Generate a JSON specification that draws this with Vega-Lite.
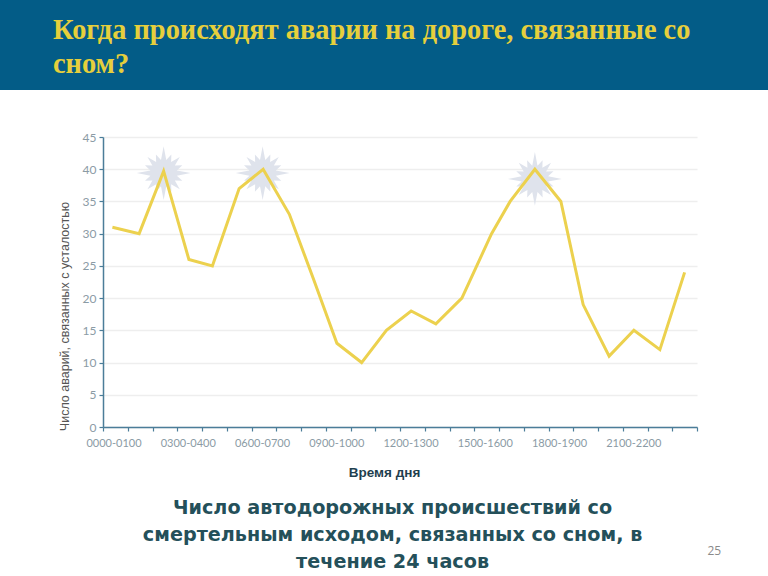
{
"$schema":"https://vega.github.io/schema/vega-lite/v6.json",
"width":594,"height":290,
"autosize":"none",
"padding":{"left":103,"top":137,"right":71,"bottom":149},
"background":"#ffffff",
"title":{"text":["Когда происходят аварии на дороге, связанные со","сном?"],"anchor":"start","frame":"group","dx":-50,"offset":-80,"font":"Liberation Serif","fontWeight":"bold","fontSize":28.4,"lineHeight":34,"color":"#e6cf3c","align":"left"},
"datasets":{
"band":[{"h":-4.17,"h2":26.9,"v":52.3,"v2":66.3}],
"stars":[{"h":2.45,"v":39.4},{"h":6.45,"v":39.4},{"h":17.45,"v":38.5}],
"series":[
{"h":0.38,"v":31},{"h":1.46,"v":30},{"h":2.45,"v":39.7},{"h":3.47,"v":26},{"h":4.42,"v":25},{"h":5.5,"v":37},{"h":6.47,"v":40},{"h":7.53,"v":33},{"h":8.5,"v":23},{"h":9.45,"v":13},{"h":10.45,"v":10},{"h":11.45,"v":15},{"h":12.45,"v":18},{"h":13.45,"v":16},{"h":14.5,"v":20},{"h":15.7,"v":30},{"h":16.45,"v":35},{"h":17.45,"v":40},{"h":18.5,"v":35},{"h":19.4,"v":19},{"h":20.45,"v":11},{"h":21.45,"v":15},{"h":22.5,"v":12},{"h":23.5,"v":24}],
"caption":[
{"t":"Число автодорожных происшествий со","h":11.7,"v":-13.5},
{"t":"смертельным исходом, связанных со сном, в","h":11.7,"v":-17.7},
{"t":"течение 24 часов","h":11.7,"v":-21.9}],
"page":[{"t":"25","h":24.7,"v":-19.2}]
},
"encoding":{
  "x":{"field":"h","type":"quantitative","scale":{"domain":[0,24],"nice":false},
   "axis":{"values":[0,1,2,3,4,5,6,7,8,9,10,11,12,13,14,15,16,17,18,19,20,21,22,23,24],
    "labelExpr":"datum.value%3==0 && datum.value<24 ? (datum.value<10?'0':'')+datum.value+'00-'+(datum.value+1<10?'0':'')+(datum.value+1)+'00' : ''",
    "labelFont":"Lato","labelFontSize":11,"labelColor":"#8b9ba5","labelOffset":10.5,"labelPadding":6,"labelAngle":0,"labelOverlap":false,"labelBound":false,"labelFlush":false,
    "tickColor":"#4b7d99","tickSize":4,"tickWidth":1.2,"domainColor":"#4b7d99","domainWidth":1.5,"grid":false,
    "title":"Время дня","titleFont":"Liberation Sans","titleFontWeight":"bold","titleFontSize":13.5,"titleColor":"#1f3f4f","titleX":281,"titleY":49,"titleAlign":"center","titleBaseline":"alphabetic"}},
  "y":{"field":"v","type":"quantitative","scale":{"domain":[0,45],"nice":false,"zero":false},
   "axis":{"values":[0,5,10,15,20,25,30,35,40,45],"labelOverlap":false,"labelFont":"Lato","labelFontSize":12,"labelColor":"#8b9ba5","labelPadding":3,
    "tickColor":"#4b7d99","tickSize":4,"tickWidth":1.2,"domainColor":"#4b7d99","domainWidth":1.5,
    "grid":true,"gridColor":"#eeeeee","gridWidth":1.5,
    "title":"Число аварий, связанных с усталостью","titleFont":"Liberation Sans","titleFontWeight":"normal","titleFontSize":12.5,"titleColor":"#555555","titleX":-39,"titleY":179,"titleAngle":-90,"titleAlign":"center","titleBaseline":"middle"}}
},
"layer":[
{"data":{"name":"band"},"mark":{"type":"rect","color":"#035c87"},
 "encoding":{"x2":{"field":"h2"},"y2":{"field":"v2"}}},
{"data":{"name":"stars"},"mark":{"type":"point","filled":true,"opacity":1,"color":"#dfe3ec","size":2900,
  "shape":"M1 0L.49 .098L.693 .287L.416 .278L.6 .6L.278 .416L.287 .693L.098 .49L0 1L-.098 .49L-.287 .693L-.278 .416L-.6 .6L-.416 .278L-.693 .287L-.49 .098L-1 0L-.49 -.098L-.693 -.287L-.416 -.278L-.6 -.6L-.278 -.416L-.287 -.693L-.098 -.49L0 -1L.098 -.49L.287 -.693L.278 -.416L.6 -.6L.416 -.278L.693 -.287L.49 -.098Z"}},
{"data":{"name":"series"},"mark":{"type":"line","color":"#ecd14e","strokeWidth":3,"strokeJoin":"miter"}},
{"data":{"name":"caption"},"mark":{"type":"text","font":"DejaVu Sans","fontWeight":"bold","fontSize":19.2,"color":"#24505a","align":"center","baseline":"alphabetic"},
 "encoding":{"text":{"field":"t"}}},
{"data":{"name":"page"},"mark":{"type":"text","font":"Open Sans","fontSize":12,"color":"#8a8a8a","align":"center","baseline":"middle"},
 "encoding":{"text":{"field":"t"}}}
],
"config":{"view":{"stroke":null},"axis":{"labelOverlap":false}}
}
